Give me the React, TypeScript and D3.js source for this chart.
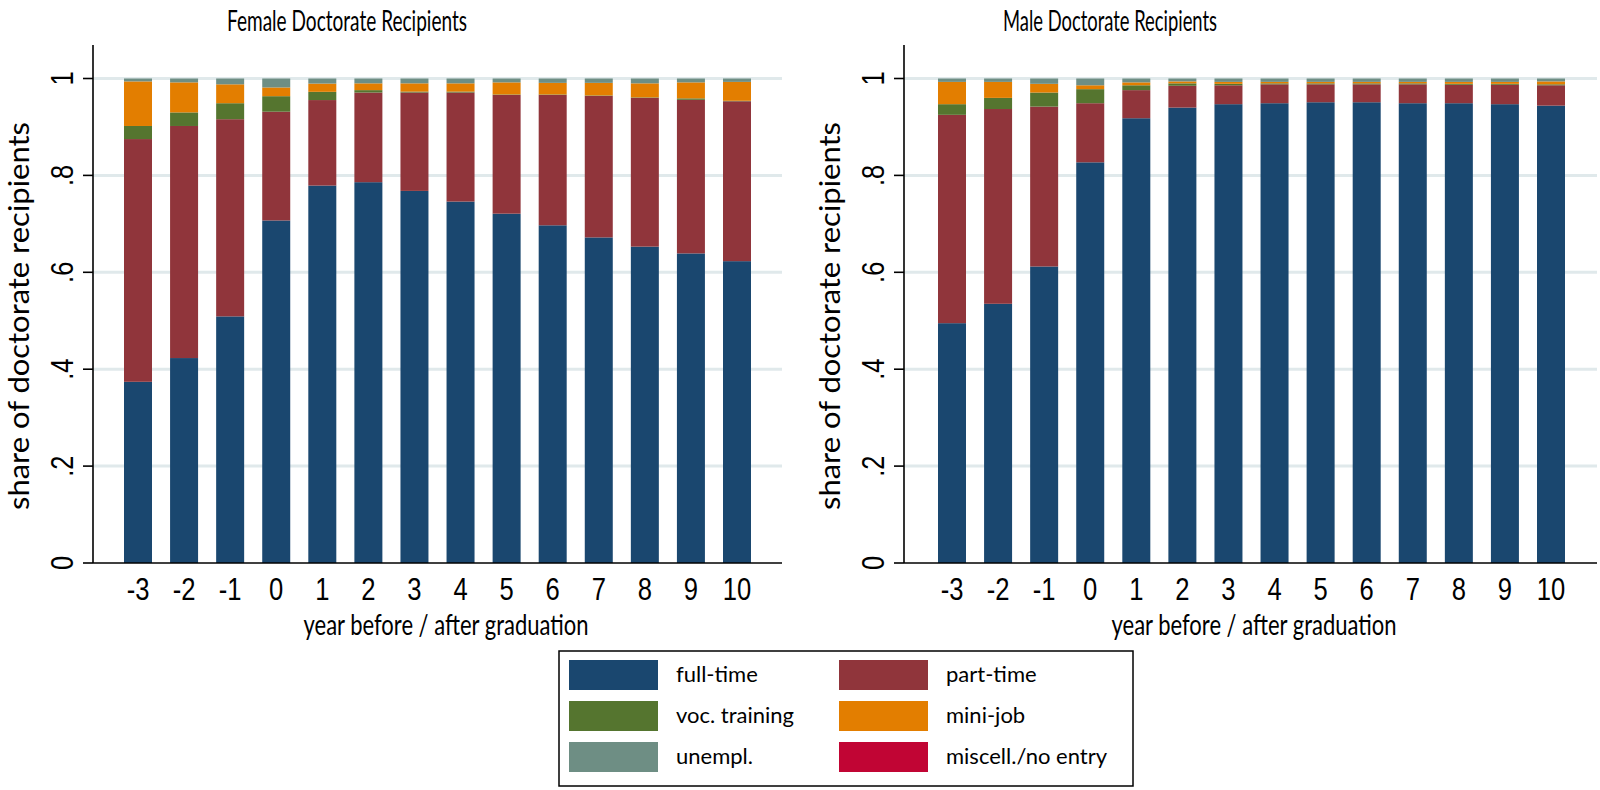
import React from 'react';
import * as d3 from 'd3';

const years = ['-3', '-2', '-1', '0', '1', '2', '3', '4', '5', '6', '7', '8', '9', '10'];
const seriesKeys = ['full-time', 'part-time', 'voc. training', 'mini-job', 'unempl.', 'miscell./no entry'];
const seriesColors = ['#1a476f', '#90353b', '#55752f', '#e37e00', '#6e8e84', '#c10534'];
const yTicks = [0, 0.2, 0.4, 0.6, 0.8, 1];
const yTickLabels = ['0', '.2', '.4', '.6', '.8', '1'];

// Female doctorate recipients
const femaleFullTime = [0.374, 0.423, 0.509, 0.707, 0.779, 0.786, 0.768, 0.746, 0.721, 0.697, 0.672, 0.653, 0.639, 0.623];
const femalePartTime = [0.501, 0.479, 0.407, 0.2245, 0.1765, 0.185, 0.203, 0.225, 0.245, 0.269, 0.292, 0.307, 0.317, 0.330];
const femaleVocTraining = [0.027, 0.028, 0.033, 0.032, 0.017, 0.005, 0.002, 0.002, 0.001, 0.001, 0.001, 0.001, 0.003, 0.001];
const femaleMiniJob = [0.092, 0.062, 0.039, 0.018, 0.017, 0.014, 0.017, 0.017, 0.025, 0.024, 0.026, 0.029, 0.033, 0.039];
const femaleUnempl = [0.006, 0.008, 0.012, 0.0185, 0.0105, 0.010, 0.010, 0.010, 0.008, 0.009, 0.009, 0.010, 0.008, 0.007];
const femaleMisc = [0, 0, 0, 0, 0, 0, 0, 0, 0, 0, 0, 0, 0, 0];

// Male doctorate recipients
const maleFullTime = [0.495, 0.535, 0.612, 0.827, 0.918, 0.940, 0.947, 0.949, 0.951, 0.951, 0.949, 0.949, 0.947, 0.944];
const malePartTime = [0.430, 0.402, 0.330, 0.122, 0.058, 0.045, 0.039, 0.039, 0.037, 0.037, 0.039, 0.038, 0.040, 0.042];
const maleVocTraining = [0.022, 0.023, 0.029, 0.029, 0.010, 0.005, 0.003, 0.002, 0.002, 0.002, 0.002, 0.002, 0.002, 0.002];
const maleMiniJob = [0.046, 0.033, 0.018, 0.008, 0.006, 0.004, 0.004, 0.003, 0.003, 0.003, 0.003, 0.004, 0.004, 0.006];
const maleUnempl = [0.007, 0.007, 0.011, 0.014, 0.008, 0.006, 0.007, 0.007, 0.007, 0.007, 0.007, 0.007, 0.007, 0.006];
const maleMisc = [0, 0, 0, 0, 0, 0, 0, 0, 0, 0, 0, 0, 0, 0];

const TITLE_FONT = "Lato, 'Open Sans', sans-serif";
const TICK_FONT = "'Liberation Sans', Arial, sans-serif";

const yScale = d3.scaleLinear().domain([0, 1]).range([563, 78.5]);
const BAR_W = 28;

type PanelProps = {
  title: string;
  titleX: number;
  titleW: number;
  xTitleX: number;
  series: number[][];
  axisX: number;
  firstX: number;
  lastX: number;
  endX: number;
};

function Panel({ title, titleX, titleW, xTitleX, series, axisX, firstX, lastX, endX }: PanelProps) {
  const xScale = d3.scalePoint<string>().domain(years).range([firstX, lastX]);
  const rows = years.map((yr, i) => {
    const r: any = { year: yr };
    seriesKeys.forEach((k, j) => (r[k] = series[j][i]));
    return r;
  });
  const stacked = d3.stack<any>().keys(seriesKeys)(rows);
  const y0 = yScale(0);
  const yTop = 45;
  return (
    <g>
      <text
        x={titleX}
        y={31}
        textAnchor="middle"
        fontFamily={TITLE_FONT}
        fontSize={29}
        textLength={titleW}
        lengthAdjust="spacingAndGlyphs"
        fill="#000"
      >
        {title}
      </text>
      {yTicks.filter((t) => t > 0).map((t) => (
        <line key={t} x1={axisX} x2={endX} y1={yScale(t)} y2={yScale(t)} stroke="#e0e9eb" strokeWidth={3} />
      ))}
      {stacked.map((layer, li) => (
        <g key={layer.key} fill={seriesColors[li]}>
          {layer.map((d, i) => {
            const h = yScale(d[0]) - yScale(d[1]);
            if (h <= 0) return null;
            return (
              <rect key={i} x={(xScale(years[i]) as number) - BAR_W / 2} y={yScale(d[1])} width={BAR_W} height={h} />
            );
          })}
        </g>
      ))}
      <line x1={axisX} x2={axisX} y1={yTop} y2={y0} stroke="#000" strokeWidth={1.6} />
      <line x1={axisX} x2={endX} y1={y0} y2={y0} stroke="#000" strokeWidth={1.6} />
      {yTicks.map((t, i) => (
        <g key={t}>
          <line x1={axisX - 10} x2={axisX} y1={yScale(t)} y2={yScale(t)} stroke="#000" strokeWidth={1.6} />
          <text
            transform={`translate(${axisX - 20},${yScale(t)}) rotate(-90) scale(0.82,1)`}
            textAnchor="middle"
            fontFamily={TICK_FONT}
            fontSize={31}
            fill="#000"
          >
            {yTickLabels[i]}
          </text>
        </g>
      ))}
      {years.map((yr) => (
        <text
          key={yr}
          transform={`translate(${xScale(yr)},${600}) scale(0.8,1)`}
          textAnchor="middle"
          fontFamily={TICK_FONT}
          fontSize={32}
          fill="#000"
        >
          {yr}
        </text>
      ))}
      <text
        x={xTitleX}
        y={635}
        textAnchor="middle"
        fontFamily={TITLE_FONT}
        fontSize={29}
        textLength={285}
        lengthAdjust="spacingAndGlyphs"
        fill="#000"
      >
        year before / after graduation
      </text>
      <text
        transform={`translate(${axisX - 64},${316}) rotate(-90)`}
        textAnchor="middle"
        fontFamily={TITLE_FONT}
        fontSize={28}
        textLength={388}
        lengthAdjust="spacingAndGlyphs"
        fill="#000"
      >
        share of doctorate recipients
      </text>
    </g>
  );
}

function Legend() {
  const boxX = 559;
  const boxY = 651;
  const boxW = 574;
  const boxH = 135;
  const colX = [569, 839];
  const textX = [676, 946];
  const rowY = [660, 701, 742];
  const swW = 89;
  const swH = 30;
  const order = [
    [0, 1],
    [2, 3],
    [4, 5],
  ];
  return (
    <g>
      <rect x={boxX} y={boxY} width={boxW} height={boxH} fill="#fff" stroke="#000" strokeWidth={1.5} />
      {order.map((row, ri) =>
        row.map((si, ci) => (
          <g key={si}>
            <rect x={colX[ci]} y={rowY[ri]} width={swW} height={swH} fill={seriesColors[si]} />
            <text
              x={textX[ci]}
              y={rowY[ri] + swH / 2 + 7}
              fontFamily={TITLE_FONT}
              fontSize={22}
              fill="#000"
            >
              {seriesKeys[si]}
            </text>
          </g>
        ))
      )}
    </g>
  );
}

export default function App() {
  const female = [femaleFullTime, femalePartTime, femaleVocTraining, femaleMiniJob, femaleUnempl, femaleMisc];
  const male = [maleFullTime, malePartTime, maleVocTraining, maleMiniJob, maleUnempl, maleMisc];
  return (
    <svg width={1600} height={790} style={{ position: 'absolute', left: 0, top: 0, background: '#fff' }}>
      <rect x={0} y={0} width={1600} height={790} fill="#fff" />
      <Panel
        title="Female Doctorate Recipients"
        titleX={347}
        titleW={240}
        xTitleX={446}
        series={female}
        axisX={93}
        firstX={138}
        lastX={737}
        endX={782}
      />
      <Panel
        title="Male Doctorate Recipients"
        titleX={1110}
        titleW={214}
        xTitleX={1254}
        series={male}
        axisX={904}
        firstX={952}
        lastX={1551}
        endX={1597}
      />
      <Legend />
    </svg>
  );
}
